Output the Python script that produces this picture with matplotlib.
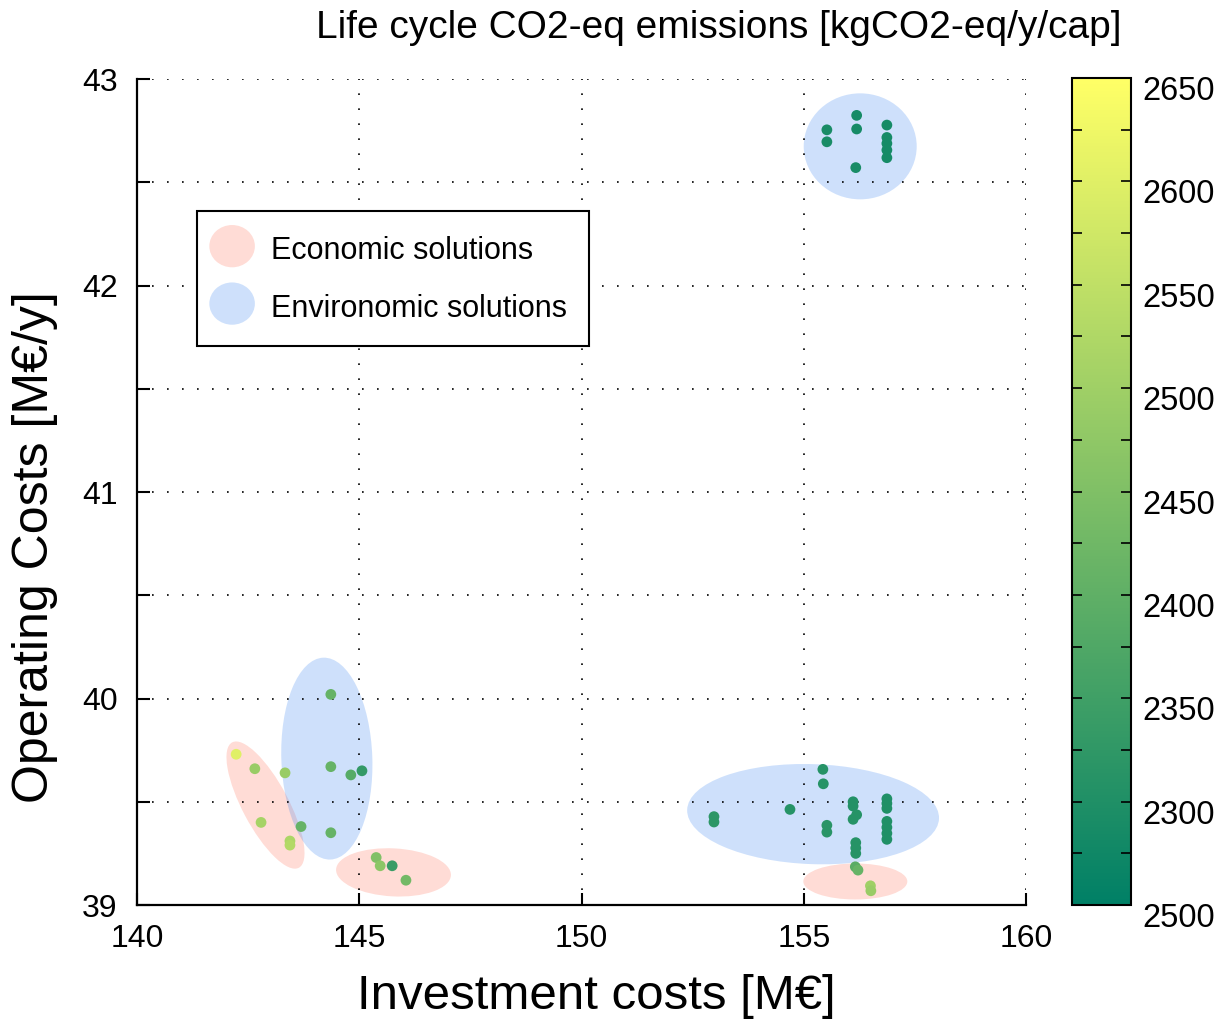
import matplotlib
matplotlib.use('Agg')
import matplotlib.pyplot as plt
import matplotlib.transforms as mtransforms
from matplotlib.patches import Ellipse
from matplotlib.legend_handler import HandlerPatch

plt.rcParams['font.family'] = ['Liberation Sans', 'DejaVu Sans']

# investment costs [M€], operating costs [M€/y], LCA emissions [kgCO2-eq/y/cap]
inv = [142.23, 142.65, 143.33, 142.79, 143.44, 143.44,
       144.36, 144.36, 144.81, 145.06, 143.69, 144.36,
       145.38, 145.47, 145.74, 146.05,
       155.43, 155.44, 152.98, 152.98, 154.69, 155.52, 155.52,
       156.11, 156.11, 156.19, 156.11, 156.17, 156.17, 156.17,
       156.16, 156.22, 156.50, 156.51,
       156.87, 156.87, 156.87, 156.87, 156.87, 156.87, 156.87,
       155.52, 155.52, 156.19, 156.19, 156.17,
       156.87, 156.87, 156.87, 156.87, 156.87]
opex = [39.73, 39.66, 39.64, 39.40, 39.31, 39.29,
        40.02, 39.67, 39.63, 39.65, 39.38, 39.35,
        39.23, 39.19, 39.19, 39.12,
        39.657, 39.587, 39.428, 39.402, 39.463, 39.386, 39.353,
        39.500, 39.479, 39.437, 39.415, 39.302, 39.276, 39.250,
        39.185, 39.169, 39.093, 39.069,
        39.514, 39.492, 39.468, 39.405, 39.376, 39.347, 39.318,
        42.754, 42.696, 42.824, 42.758, 42.571,
        42.777, 42.717, 42.688, 42.656, 42.619]
lca = [2600, 2490, 2490, 2510, 2520, 2530,
       2410, 2410, 2385, 2330, 2410, 2410,
       2450, 2470, 2340, 2430,
       2310, 2310, 2320, 2320, 2310, 2315, 2315,
       2305, 2305, 2310, 2310, 2310, 2310, 2310,
       2390, 2410, 2500, 2490,
       2300, 2300, 2300, 2300, 2300, 2300, 2300,
       2290, 2290, 2285, 2285, 2290,
       2285, 2285, 2285, 2285, 2285]

# highlighted groups: centre (data), width / height (pixels), angle
ell_kind = ['eco', 'env', 'eco', 'env', 'eco', 'env']
ell_x = [142.89, 144.27, 145.77, 155.21, 156.16, 156.27]
ell_y = [39.484, 39.709, 39.158, 39.44, 39.114, 42.674]
ell_w = [142, 91, 115, 252, 104, 113]
ell_h = [46, 202, 48, 100, 36, 106]
ell_a = [-62, 2, -3, -2, 0, 0]

cbar_ticks = [2250, 2300, 2350, 2400, 2450, 2500, 2550, 2600, 2650]
cbar_labels = ['2500', '2300', '2350', '2400', '2450', '2500', '2550', '2600', '2650']

eco_color = (1.0, 0.55, 0.47, 0.3)
env_color = (0.2, 0.5, 0.95, 0.24)

fig = plt.figure(figsize=(12.28, 10.21), dpi=100)
ax = fig.add_axes([0.1116, 0.1136, 0.7239, 0.809])
cax = fig.add_axes([0.873, 0.1136, 0.048, 0.810])

for k, x, y, w, h, a in zip(ell_kind, ell_x, ell_y, ell_w, ell_h, ell_a):
    c = eco_color if k == 'eco' else env_color
    tr = mtransforms.ScaledTranslation(x, y, ax.transData)
    ax.add_patch(Ellipse((0, 0), w, h, angle=a, facecolor=c, edgecolor='none',
                         transform=tr, zorder=1))

sc = ax.scatter(inv, opex, c=lca, cmap='summer', vmin=2250, vmax=2650,
                s=60, edgecolors='none', zorder=3)

ax.set_xlim(140, 160)
ax.set_ylim(39, 43)
ax.set_xticks([140, 145, 150, 155, 160])
ax.set_yticks([39, 39.5, 40, 40.5, 41, 41.5, 42, 42.5, 43])
ax.set_yticklabels(['39', '', '40', '', '41', '', '42', '', '43'])
ax.grid(True, color='black', linestyle=(0, (1, 8)), linewidth=1.2)
ax.tick_params(direction='in', length=9, width=1.5, labelsize=23, pad=14)
for side in ['top', 'right']:
    ax.spines[side].set_visible(False)
for side in ['left', 'bottom']:
    ax.spines[side].set_linewidth(1.6)

ax.set_xlabel('Investment costs [M€]', fontsize=35.5)
ax.xaxis.set_label_coords(0.517, -0.084)
ax.set_ylabel('Operating Costs [M€/y]', fontsize=36, va='center')
ax.yaxis.set_label_coords(-0.115, 0.433)

fig.text(0.585, 0.973, 'Life cycle CO2-eq emissions [kgCO2-eq/y/cap]',
         fontsize=28, ha='center', va='center')


class HandlerEllipse(HandlerPatch):
    def create_artists(self, legend, orig_handle, xdescent, ydescent,
                       width, height, fontsize, trans):
        center = 0.5 * width - 0.5 * xdescent - 6, 0.5 * height - 0.5 * ydescent
        p = Ellipse(xy=center, width=width + 2, height=height * 1.35)
        self.update_prop(p, orig_handle, legend)
        p.set_transform(trans)
        return [p]


h_eco = Ellipse((0, 0), 1, 1, facecolor=eco_color, edgecolor='none')
h_env = Ellipse((0, 0), 1, 1, facecolor=env_color, edgecolor='none')
leg = ax.legend([h_eco, h_env], ['Economic solutions', 'Environomic solutions'],
                handler_map={Ellipse: HandlerEllipse()},
                loc='upper left', bbox_to_anchor=(0.0675, 0.840),
                borderaxespad=0, fontsize=22, fancybox=False,
                edgecolor='black', framealpha=1, handlelength=1.4,
                handleheight=1.2, labelspacing=0.8, borderpad=0.72,
                handletextpad=0.3)
leg.get_frame().set_linewidth(1.5)

cb = fig.colorbar(sc, cax=cax, ticks=cbar_ticks)
cb.set_ticklabels(cbar_labels)
cb.outline.set_linewidth(1.5)
cax.minorticks_on()
cax.yaxis.set_minor_locator(matplotlib.ticker.MultipleLocator(25))
cax.tick_params(which='both', direction='in', left=True, right=True,
                length=7, width=1.2, labelsize=23.5, pad=8)
offset = mtransforms.ScaledTranslation(0, -0.10, fig.dpi_scale_trans)
for lab in cax.get_yticklabels():
    lab.set_transform(lab.get_transform() + offset)

fig.savefig('out.png', dpi=100)
